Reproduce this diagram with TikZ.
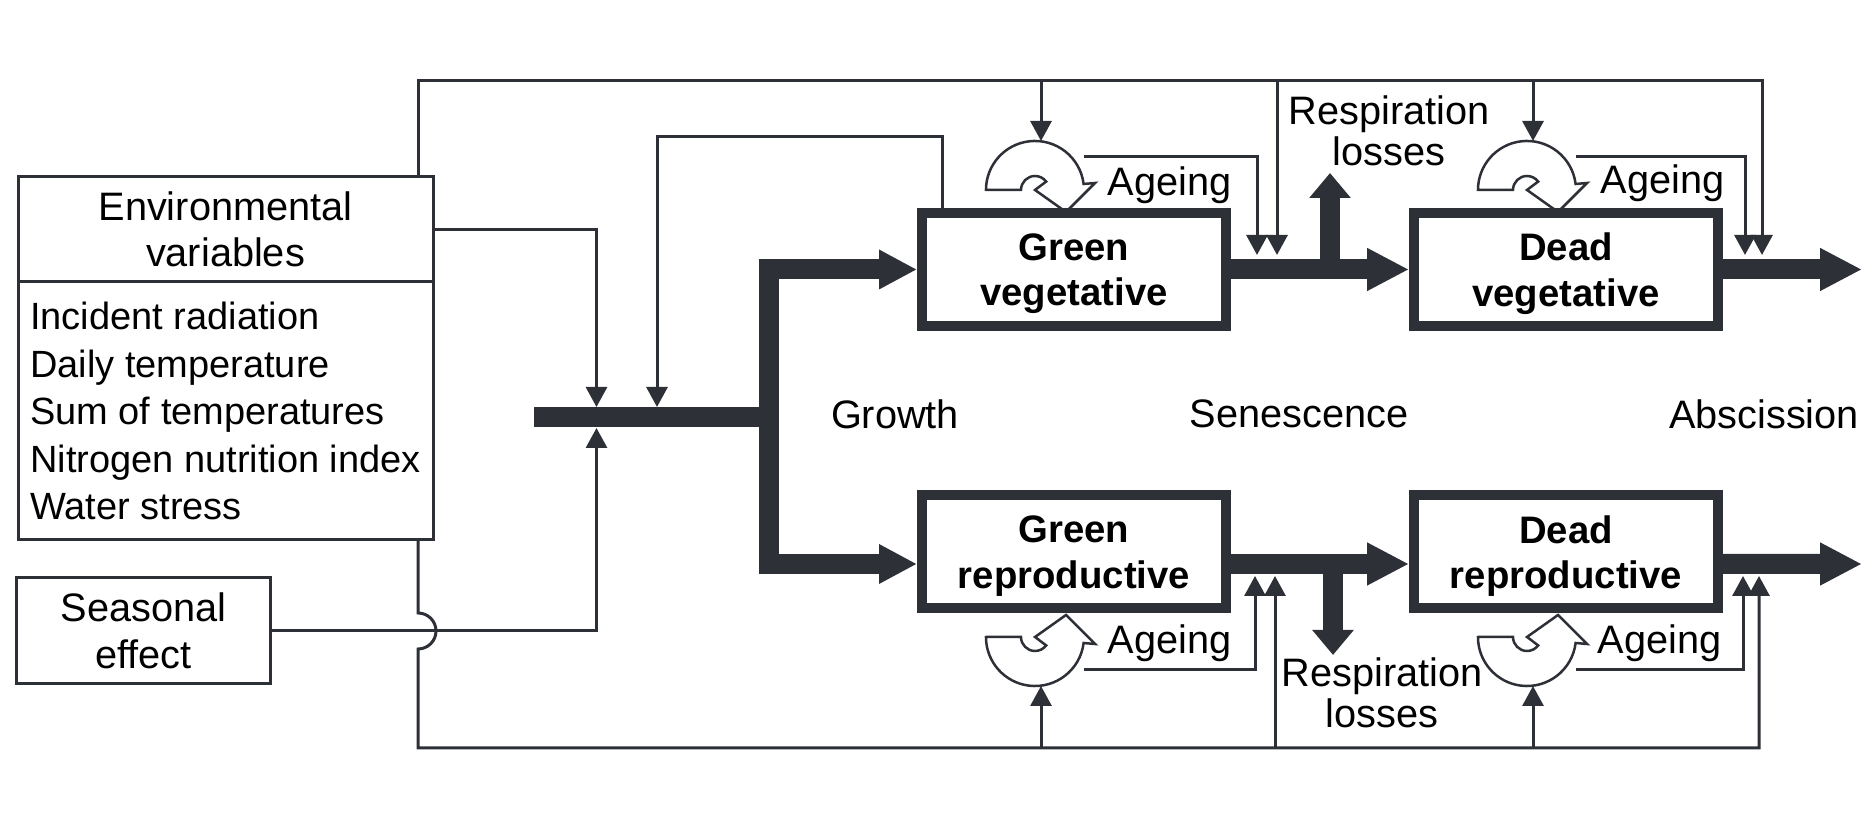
\documentclass[tikz,border=0pt]{standalone}
\usepackage{fontspec}
\setmainfont{Liberation Sans}
\definecolor{lineink}{HTML}{2E3037}
\usetikzlibrary{arrows.meta, positioning}
\tikzset{
	pool/.style={draw=lineink, line width=0.1cm, fill=white, minimum width=3.04cm,
		minimum height=1.13cm, align=center, font=\fontsize{10.9}{13}\selectfont\bfseries,
		inner sep=0pt, text depth=0pt},
	infobox/.style={draw=lineink, line width=0.03cm, fill=white, inner sep=0pt,
		outer sep=0pt, align=center},
	tag/.style={inner sep=0pt, anchor=west},
	link/.style={draw=lineink, line width=0.03cm},
	tarr/.style={link, -{Triangle[length=0.2cm, width=0.21cm]}},
	flow/.style={draw=lineink, line width=0.2cm, line join=miter},
	farr/.style={flow, -{Triangle[length=0.42cm, width=0.4cm]}},
	resp/.style={flow, -{Triangle[length=0.25cm, width=0.4cm]}},
	ageing/.pic={
		\draw[lineink, line width=0.025cm, fill=white, line join=miter]
			(-0.49,0) -- (-0.14,0) arc[start angle=180, end angle=37, radius=0.14]
			-- (0,0) -- (0.31,-0.22) -- (0.60,0.07) -- (0.486,0.06)
			arc[start angle=7, end angle=180, radius=0.49] -- cycle;
		\coordinate (-in) at (0.06,0.49);
		\coordinate (-out) at (0.49,0.33);
	}
}

\begin{document}
\begin{tikzpicture}[font=\fontsize{11.3}{13}\selectfont]
	\useasboundingbox (0,0) rectangle (18.76,8.23);
	% ageing symbols (under the boxes)
	\pic (agv) at (10.35,6.33) {ageing};
	\pic (adv) at (15.27,6.33) {ageing};
	\pic[yscale=-1] (agr) at (10.35,1.86) {ageing};
	\pic[yscale=-1] (adr) at (15.27,1.86) {ageing};
	% inputs
	\node[infobox, minimum width=4.15cm, minimum height=1.05cm,
		font=\fontsize{11.3}{13.2}\selectfont] (env) at (2.255,5.935) {Environmental\\variables};
	\node[infobox, below=0pt of env, minimum width=4.15cm, minimum height=2.58cm,
		align=left, font=\fontsize{10.8}{13.5}\selectfont] (envlist)
		{Incident radiation\\Daily temperature\\Sum of temperatures\\Nitrogen nutrition index\\Water stress};
	\node[infobox, minimum width=2.53cm, minimum height=1.06cm,
		font=\fontsize{11.3}{13.2}\selectfont] (season) at (1.435,1.92) {Seasonal\\effect};
	% compartments
	\node[pool] (gv) at (10.74,5.535) {Green\\vegetative};
	\node[pool] (dv) at (15.66,5.535) {Dead\\vegetative};
	\node[pool] (gr) at (10.74,2.71) {Green\\reproductive};
	\node[pool] (dr) at (15.66,2.71) {Dead\\reproductive};
	% labels
	\node (growth) at (8.95,4.09) {Growth};
	\node (senes) at (12.99,4.09) {Senescence};
	\node (absc) at (17.64,4.09) {Abscission};
	\node[align=center, font=\fontsize{11.3}{11.8}\selectfont] (resup) at (13.89,6.92) {Respiration\\losses};
	\node[align=center, font=\fontsize{11.3}{11.8}\selectfont] (reslow) at (13.82,1.30) {Respiration\\losses};
	\node[tag] (tgv) at (11.07,6.38) {Ageing};
	\node[tag] (tdv) at (16.00,6.40) {Ageing};
	\node[tag] (tgr) at (11.07,1.80) {Ageing};
	\node[tag] (tdr) at (15.97,1.80) {Ageing};
	% junction points
	\coordinate (topline) at (0,7.42);
	\coordinate (botline) at (0,0.75);
	\coordinate (fbline) at (0,6.86);
	\coordinate (barL) at (5.34,4.055);
	\coordinate (hub) at (7.69,4.055);
	\coordinate (barin1) at (5.965,4.16);
	\coordinate (barin2) at (6.57,4.16);
	\coordinate (barin3) at (5.965,3.95);
	\coordinate (tipv1) at (12.57,5.68);
	\coordinate (tipv2) at (12.77,5.68);
	\coordinate (tipv3) at (17.45,5.68);
	\coordinate (tipv4) at (17.62,5.68);
	\coordinate (tipr1) at (12.55,2.47);
	\coordinate (tipr2) at (12.75,2.47);
	\coordinate (tipr3) at (17.43,2.47);
	\coordinate (tipr4) at (17.59,2.47);
	\coordinate (respv) at (13.30,5.535);
	\coordinate (respvtip) at (13.30,6.50);
	\coordinate (respr) at (13.33,2.59);
	\coordinate (resprtip) at (13.33,1.68);
	\coordinate (outv) at (18.62,5.535);
	\coordinate (outr) at (18.62,2.59);
	% growth, senescence, abscission
	\draw[flow] (barL) -- (hub);
	\draw[flow, {Triangle[length=0.38cm, width=0.37cm]}-{Triangle[length=0.38cm, width=0.37cm]}]
		(gv.west) -| (hub) |- ([yshift=-0.12cm]gr.west);
	\draw[farr] (gv.east) -- (dv.west);
	\draw[farr] ([yshift=-0.12cm]gr.east) -- ([yshift=-0.12cm]dr.west);
	\draw[farr] (dv.east) -- (outv);
	\draw[farr] ([yshift=-0.12cm]dr.east) -- (outr);
	\draw[resp] (respv) -- (respvtip);
	\draw[resp] (respr) -- (resprtip);
	% driving variables
	\draw[tarr] (env.east) -| (barin1);
	\draw[tarr] (season.east) -| (barin3);
	\draw[tarr] ([xshift=-1.32cm]gv.north) |- (barin2 |- fbline) -- (barin2);
	\draw[tarr] ([xshift=-0.15cm]env.north east) |- (tipv4 |- topline) -- (tipv4);
	\draw[tarr] (tipv2 |- topline) -- (tipv2);
	\draw[tarr] (agv-in |- topline) -- (agv-in);
	\draw[tarr] (adv-in |- topline) -- (adv-in);
	\draw[tarr] ([xshift=-0.15cm]envlist.south east) -- ++(0,-0.73)
		arc[start angle=90, end angle=-90, radius=0.18] |- (tipr4 |- botline) -- (tipr4);
	\draw[tarr] (tipr2 |- botline) -- (tipr2);
	\draw[tarr] (agr-in |- botline) -- (agr-in);
	\draw[tarr] (adr-in |- botline) -- (adr-in);
	% ageing
	\draw[tarr] (agv-out) -| (tipv1);
	\draw[tarr] (adv-out) -| (tipv3);
	\draw[tarr] (agr-out) -| (tipr1);
	\draw[tarr] (adr-out) -| (tipr3);
\end{tikzpicture}
\end{document}
